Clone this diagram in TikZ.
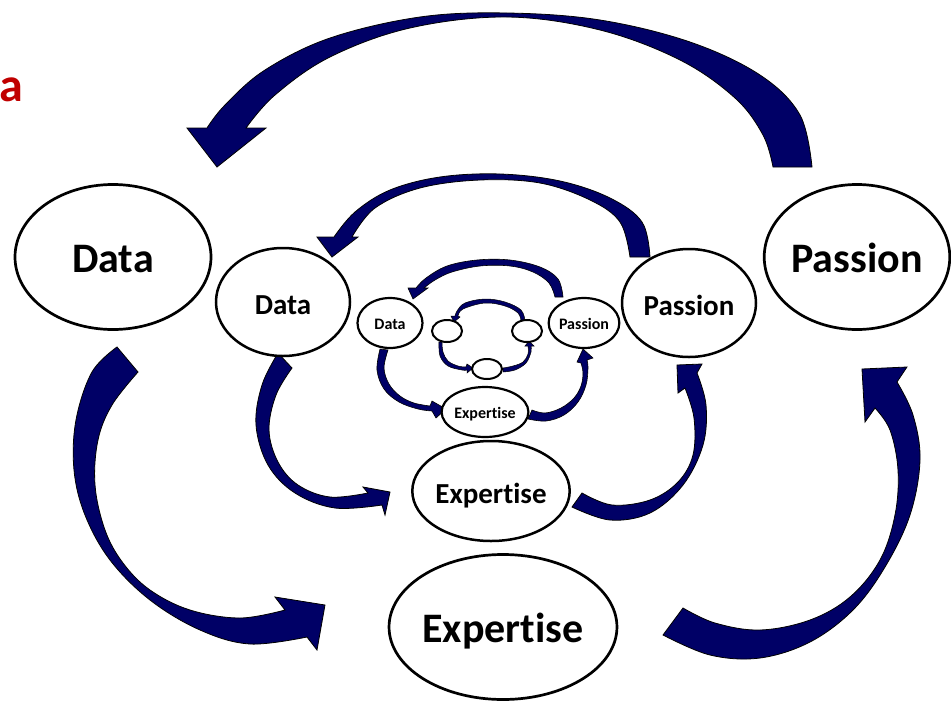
\documentclass[tikz,border=0pt]{standalone}
\usepackage{fontspec}
\setmainfont{Carlito}[Ligatures=NoCommon]
\usetikzlibrary{shapes.geometric}
\definecolor{navyfill}{RGB}{0,0,102}
\definecolor{titlered}{RGB}{192,0,0}
\begin{document}
\begin{tikzpicture}[x=1pt,y=-1pt,
  bubble/.style={ellipse, draw=black, fill=white, inner sep=0pt, line width=2.5pt, text depth=0pt},
  bigbubble/.style={bubble, line width=2.7pt, minimum width=196pt, minimum height=145pt,
    font=\fontsize{42}{50}\selectfont\bfseries, text height=31pt},
  midbubble/.style={bubble, minimum width=134pt, minimum height=108pt,
    font=\fontsize{29}{35}\selectfont\bfseries, text height=25pt},
  smallbubble/.style={bubble, line width=2.2pt, minimum width=65pt, minimum height=50pt,
    font=\fontsize{16}{19}\selectfont\bfseries, text height=12pt},
  tinybubble/.style={bubble, line width=2pt, minimum width=30pt, minimum height=22pt},
  blockarrow/.style={fill=navyfill, draw=black, line width=0.8pt, line join=miter},
  curve/.style={smooth, tension=0.6}
]
\useasboundingbox (0,0) rectangle (951,702);

% ---------- outer cycle ----------
% Passion -> Data (top)
\filldraw[blockarrow]
  plot[curve] coordinates {(812,167) (800,115) (760,75) (690,42) (600,20) (507,13) (420,17) (330,38) (265,70) (225,105) (207,128)}
  -- (187,128) -- (217,167) -- (266,128)
  -- plot[curve] coordinates {(246,128) (275,95) (330,57) (410,28) (507,17) (600,30) (680,60) (735,98) (763,135) (773,167)}
  -- cycle;
% Data -> Expertise (left)
\filldraw[blockarrow]
  plot[curve] coordinates {(117,347) (92,372) (76,420) (74,470) (85,515) (110,560) (150,600) (200,630) (250,644) (307,637)}
  -- (317,650) -- (325,605) -- (275,597)
  -- plot[curve] coordinates {(285,610) (240,618) (190,610) (150,590) (123,563) (105,530) (95,485) (98,440) (112,405) (138,372)}
  -- cycle;
% Expertise -> Passion (right)
\filldraw[blockarrow]
  plot[curve] coordinates {(663,635) (710,655) (760,658) (810,642) (853,610) (885,567) (910,515) (920,460) (913,415) (897,382)}
  -- (907,367) -- (862,369) -- (865,422)
  -- plot[curve] coordinates {(875,408) (890,430) (898,470) (895,515) (880,560) (850,597) (810,620) (760,630) (715,623) (683,608)}
  -- cycle;

% ---------- middle cycle ----------
\filldraw[blockarrow]
  plot[curve] coordinates {(650,257) (642,222) (610,198) (560,181) (500,174) (440,177) (390,190) (355,212) (334,237)}
  -- (317,237) -- (332,257) -- (358,237)
  -- plot[curve] coordinates {(352,237) (375,208) (420,188) (480,180) (540,183) (590,200) (620,222) (630,257)}
  -- cycle;
\filldraw[blockarrow]
  plot[curve] coordinates {(278,353) (262,385) (256,425) (268,465) (295,493) (335,508) (382,505)}
  -- (385,515) -- (390,492) -- (363,487)
  -- plot[curve] coordinates {(368,493) (330,497) (298,485) (278,462) (269,430) (276,395) (292,368)}
  -- cycle;
\filldraw[blockarrow]
  plot[curve] coordinates {(572,507) (610,520) (650,513) (683,485) (703,445) (706,405) (697,373)}
  -- (702,364) -- (677,365) -- (678,393)
  -- plot[curve] coordinates {(685,388) (694,418) (693,455) (678,482) (650,500) (612,505) (582,493)}
  -- cycle;

% ---------- inner cycle ----------
\filldraw[blockarrow, line width=0.6pt]
  plot[curve] coordinates {(563,297) (558,279) (540,267) (510,260) (477,260) (447,266) (426,278) (416,288)}
  -- (408,288) -- (413,299) -- (428,288)
  -- plot[curve] coordinates {(424,288) (435,280) (452,272) (480,266) (510,266) (533,272) (549,283) (555,297)}
  -- cycle;
\filldraw[blockarrow, line width=0.6pt]
  plot[curve] coordinates {(380,349) (377,370) (384,389) (399,402) (418,409) (432,411)}
  -- (436,418) -- (446,409) -- (432,401)
  -- plot[curve] coordinates {(430,406) (414,403) (400,396) (389,384) (384,368) (388,350)}
  -- cycle;
\filldraw[blockarrow, line width=0.6pt]
  plot[curve] coordinates {(528,419) (546,421) (564,415) (578,402) (586,385) (588,368) (587,360)}
  -- (593,358) -- (583,349) -- (577,362)
  -- plot[curve] coordinates {(581,363) (583,373) (581,386) (574,398) (561,408) (545,413) (532,410)}
  -- cycle;

% ---------- innermost cycle ----------
\filldraw[blockarrow, line width=0.5pt]
  plot[curve] coordinates {(525,321) (521,310) (505,302) (485,299) (465,303) (457,311) (455,316)}
  -- (451,316) -- (454,322) -- (460,317)
  -- plot[curve] coordinates {(458,316) (463,309) (485,303) (505,306) (518,313) (521,321)}
  -- cycle;
\filldraw[blockarrow, line width=0.5pt]
  plot[curve] coordinates {(439,342) (440,356) (448,366) (462,370) (467,370)}
  -- (467,373) -- (473,368) -- (467,364)
  -- plot[curve] coordinates {(466,367) (458,366) (448,361) (443,352) (442,342)}
  -- cycle;
\filldraw[blockarrow, line width=0.5pt]
  plot[curve] coordinates {(503,372) (515,370) (526,363) (531,352) (531,346)}
  -- (534,346) -- (529,341) -- (525,346)
  -- plot[curve] coordinates {(528,346) (528,354) (523,362) (513,366) (503,368)}
  -- cycle;

% ---------- bubbles ----------
\node[bigbubble] (dataA) at (113,257) {Data};
\node[bigbubble, minimum width=184pt] (passionA) at (857,257) {Passion};
\node[bigbubble] (expertA) at (503,627) {Expertise};

\node[midbubble] (dataB) at (283,302) {Data};
\node[midbubble] (passionB) at (689,303) {Passion};
\node[midbubble, minimum width=132pt, minimum height=100pt] (expertB) at (491,491) {Expertise};

\node[smallbubble] (dataC) at (390,323) {Data};
\node[smallbubble, minimum width=66pt] (passionC) at (584,323) {Passion};
\node[smallbubble] (expertC) at (485,412) {Expertise};

\node[tinybubble] (dataD) at (447,331) {};
\node[tinybubble] (passionD) at (527,331) {};
\node[tinybubble, minimum height=20pt] (expertD) at (487,369) {};

% heading fragment
\node[anchor=base west, inner sep=0pt, text=titlered, font=\fontsize{48}{56}\selectfont\bfseries] (heading) at (-1,101) {a};
\end{tikzpicture}
\end{document}
